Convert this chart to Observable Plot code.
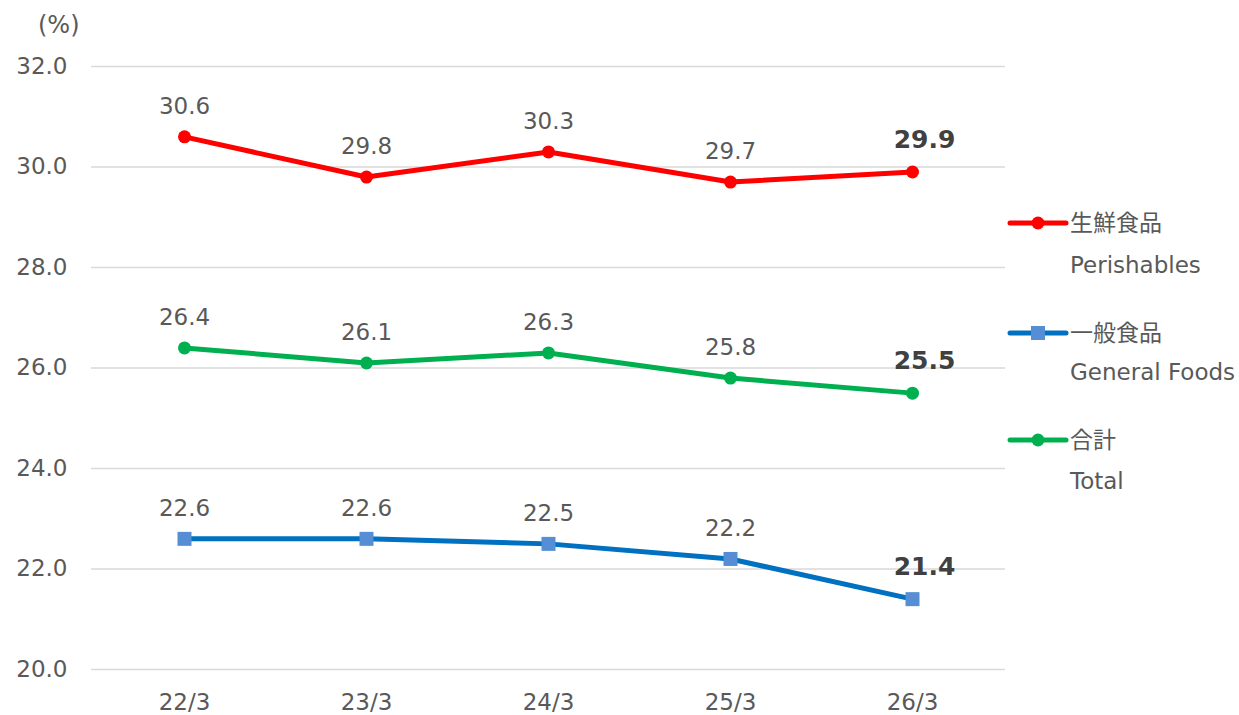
<!DOCTYPE html>
<html>
<head>
<meta charset="utf-8">
<script src="https://cdn.jsdelivr.net/npm/d3@7"></script>
<script src="https://cdn.jsdelivr.net/npm/@observablehq/plot@0.6"></script>
<style>
  html, body { margin: 0; padding: 0; background: #fff; }
  #wrap { position: relative; width: 1239px; height: 715px; }
  #unit { position: absolute; left: 38px; top: 11px; font: 24px "DejaVu Sans", sans-serif; color: #595959; }
  #legend { position: absolute; left: 0; top: 0; }
</style>
</head>
<body>
<div id="wrap"><div id="unit">(%)</div></div>
<script>
const categories = ["22/3", "23/3", "24/3", "25/3", "26/3"];
const perishables = [30.6, 29.8, 30.3, 29.7, 29.9];
const generalFoods = [22.6, 22.6, 22.5, 22.2, 21.4];
const total = [26.4, 26.1, 26.3, 25.8, 25.5];
const yTicks = [20, 22, 24, 26, 28, 30, 32];
const seriesNames = [
  ["生鮮食品", "Perishables"],
  ["一般食品", "General Foods"],
  ["合計", "Total"]
];

const series = [
  {key: "p", values: perishables, color: "#FF0000", fill: "#FF0000", symbol: "circle", r: 6.5, names: seriesNames[0]},
  {key: "g", values: generalFoods, color: "#0070C0", fill: "#558ED5", symbol: "square", r: 7.9, names: seriesNames[1]},
  {key: "t", values: total, color: "#00B050", fill: "#00B050", symbol: "circle", r: 6.5, names: seriesNames[2]}
];

const rows = series.flatMap(s => s.values.map((v, i) => ({key: s.key, cat: categories[i], value: v, last: i === categories.length - 1})));

const marks = [
  Plot.gridY(yTicks, {stroke: "#d9d9d9", strokeOpacity: 1, strokeWidth: 1.5}),
  Plot.axisY(yTicks, {tickSize: 0, tickPadding: 24, tickFormat: d3.format(".1f"), fill: "#595959"}),
  Plot.axisX({tickSize: 0, tickPadding: 24, fill: "#595959", label: null})
];
for (const s of series) {
  const d = rows.filter(r => r.key === s.key);
  marks.push(Plot.line(d, {x: "cat", y: "value", stroke: s.color, strokeWidth: 5}));
  marks.push(Plot.dot(d, {x: "cat", y: "value", symbol: s.symbol, r: s.r, fill: s.fill, stroke: "none"}));
  marks.push(Plot.text(d.filter(r => !r.last), {x: "cat", y: "value", text: r => r.value.toFixed(1), dy: -30, fill: "#595959"}));
  marks.push(Plot.text(d.filter(r => r.last), {x: "cat", y: "value", text: r => r.value.toFixed(1), dy: -32, dx: 12, fill: "#404040", fontWeight: "bold", fontSize: 25}));
}

const chart = Plot.plot({
  width: 1239,
  height: 715,
  marginLeft: 91,
  marginRight: 234,
  marginTop: 66,
  marginBottom: 46,
  style: {fontFamily: "DejaVu Sans, sans-serif", fontSize: "23px", color: "#595959", background: "#fff"},
  x: {type: "point", domain: categories, padding: 0.5, label: null},
  y: {domain: [20, 32], label: null},
  marks
});
document.getElementById("wrap").prepend(chart);

// legend
const legendY = [223, 333, 440];
const svg = d3.select("#wrap").append("svg").attr("id", "legend").attr("width", 1239).attr("height", 715);
series.forEach((s, i) => {
  const g = svg.append("g").attr("transform", `translate(0,${legendY[i]})`);
  g.append("line").attr("x1", 1010).attr("x2", 1066).attr("y1", 0).attr("y2", 0)
    .attr("stroke", s.color).attr("stroke-width", 5).attr("stroke-linecap", "round");
  if (s.symbol === "square") {
    g.append("rect").attr("x", 1031).attr("y", -7).attr("width", 14).attr("height", 14).attr("fill", s.fill);
  } else {
    g.append("circle").attr("cx", 1038).attr("cy", 0).attr("r", 6.5).attr("fill", s.fill);
  }
  g.append("text").attr("x", 1070).attr("y", 0).attr("dy", "0.36em")
    .attr("font-family", "'Noto Sans CJK JP', sans-serif").attr("font-size", 23).attr("fill", "#595959")
    .text(s.names[0]);
  g.append("text").attr("x", 1070).attr("y", i === 0 ? 42 : (i === 1 ? 39 : 41)).attr("dy", "0.36em")
    .attr("font-family", "DejaVu Sans, sans-serif").attr("font-size", 23).attr("fill", "#595959")
    .text(s.names[1]);
});
</script>
</body>
</html>
